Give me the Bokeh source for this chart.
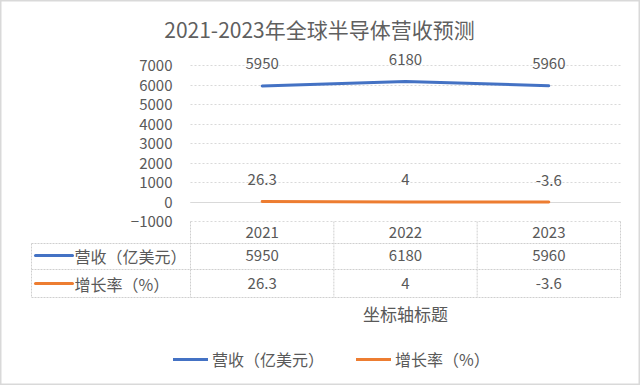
from bokeh.plotting import figure
from bokeh.models import ColumnDataSource, Range1d, FixedTicker, Grid, Legend, LegendItem
from bokeh.core.properties import value
from bokeh.embed import file_html
from bokeh.resources import INLINE

# ---------------- data ----------------
years = ["2021", "2022", "2023"]
revenue = [5950, 6180, 5960]
growth = [26.3, 4, -3.6]
series_names = ["营收（亿美元）", "增长率（%）"]
y_ticks = [-1000, 0, 1000, 2000, 3000, 4000, 5000, 6000, 7000]
title_text = "2021-2023年全球半导体营收预测"
axis_title = "坐标轴标题"

# ---------------- style / layout ----------------
FONT = "Noto Sans CJK SC"
GRAY = "#595959"
GRID_GRAY = "#d9d9d9"
TABLE_GRAY = "#cfcfcf"
BLUE = "#4472C4"
ORANGE = "#ED7D31"

W, H = 640, 385
PLOT_L, PLOT_R = 190, 620          # plot-area pixels
Y_TOP_PX, Y_BOT_PX = 65, 221       # pixel rows of the top / bottom tick
n = len(years)
ppu = (PLOT_R - PLOT_L) / n
ypp = (y_ticks[-1] - y_ticks[0]) / (Y_BOT_PX - Y_TOP_PX)


def ux(px):
    return (px - PLOT_L) / ppu


def uy(py):
    return y_ticks[-1] - (py - Y_TOP_PX) * ypp


def fmt(v):
    return f"{v:g}"


xs = [i + 0.5 for i in range(n)]
series = [revenue, growth]
colors = [BLUE, ORANGE]

p = figure(width=W, height=H, x_range=Range1d(ux(0), ux(W)),
           y_range=Range1d(uy(H), uy(0)), output_backend="svg",
           toolbar_location=None, x_axis_location=None, min_border=0)
p.outline_line_color = "#d9d9d9"
p.outline_line_width = 2
p.background_fill_color = "white"
p.border_fill_color = "white"

# y axis (labels placed inside the canvas, right-aligned at x=178)
p.yaxis.ticker = FixedTicker(ticks=y_ticks)
p.yaxis.axis_line_color = None
p.yaxis.major_tick_line_color = None
p.yaxis.minor_tick_line_color = None
p.yaxis.major_label_text_font = FONT
p.yaxis.major_label_text_font_size = "15px"
p.yaxis.major_label_text_color = GRAY
p.yaxis.major_label_standoff = -178

p.xgrid.visible = False
p.ygrid.ticker = FixedTicker(ticks=y_ticks)
p.ygrid.grid_line_color = GRID_GRAY
p.ygrid.grid_line_dash = "2 2"
p.ygrid.cross_bounds = (0, n)
zero_grid = Grid(dimension=1, ticker=FixedTicker(ticks=[0]), cross_bounds=(0, n),
                 grid_line_color=GRID_GRAY)
p.add_layout(zero_grid)

# title
p.text(x=[ux(319)], y=[uy(28)], text=[title_text], text_align="center",
       text_baseline="middle", text_font=value(FONT), text_font_size="21px",
       text_color="#5f5f5f")

# series lines and data labels
renderers = [p.line(xs, vals, line_color=c, line_width=3, line_cap="round")
             for vals, c in zip(series, colors)]
lab_src = ColumnDataSource(dict(
    x=xs * len(series),
    y=[v for vals in series for v in vals],
    t=[fmt(v) for vals in series for v in vals]))
p.text(x="x", y="y", text="t", source=lab_src, y_offset=-22,
       text_align="center", text_baseline="middle",
       text_font=value(FONT), text_font_size="15px", text_color=GRAY)

# data table
header_top, row_top, row_mid, row_bot = uy(221), uy(243), uy(269), uy(297)
x_left = ux(31)
p.segment(x0=[x_left] * 3, x1=[n] * 3, y0=[row_top, row_mid, row_bot],
          y1=[row_top, row_mid, row_bot], line_color=TABLE_GRAY, line_dash="2 1")
vx = list(range(n + 1))
p.segment(x0=vx, x1=vx, y0=[header_top] * len(vx), y1=[row_bot] * len(vx),
          line_color=TABLE_GRAY, line_dash="2 1")
p.segment(x0=[x_left], x1=[x_left], y0=[row_top], y1=[row_bot],
          line_color=TABLE_GRAY, line_dash="2 1")

p.text(x=xs, y=[uy(232)] * n, text=years, text_align="center",
       text_baseline="middle", text_font=value(FONT), text_font_size="15px",
       text_color=GRAY)

row_centers = [uy(255), uy(283)]
p.segment(x0=[ux(35)] * 2, x1=[ux(72)] * 2, y0=row_centers, y1=row_centers,
          line_color=colors, line_width=3, line_cap="round")
p.text(x=[ux(74)] * 2, y=row_centers, text=series_names,
       text_align="left", text_baseline="middle",
       text_font=value(FONT), text_font_size="16px", text_color=GRAY)

cell_src = ColumnDataSource(dict(
    x=xs * len(series),
    y=[row_centers[k] for k in range(len(series)) for _ in xs],
    t=[fmt(v) for vals in series for v in vals]))
p.text(x="x", y="y", text="t", source=cell_src,
       text_align="center", text_baseline="middle",
       text_font=value(FONT), text_font_size="15px", text_color=GRAY)

# axis title
p.text(x=[ux(405)], y=[uy(313)], text=[axis_title], text_align="center",
       text_baseline="middle", text_font=value(FONT), text_font_size="17px",
       text_color=GRAY)

# legend
legend = Legend(items=[LegendItem(label=nm, renderers=[r])
                       for nm, r in zip(series_names, renderers)],
                orientation="horizontal", location=(173, 14),
                glyph_width=35, glyph_height=20, label_height=20,
                label_standoff=4, spacing=32, padding=0, margin=0,
                border_line_alpha=0, background_fill_alpha=0,
                label_text_font=FONT, label_text_font_size="16px",
                label_text_color=GRAY)
p.add_layout(legend)

open("out.html", "w").write(file_html(p, INLINE))
